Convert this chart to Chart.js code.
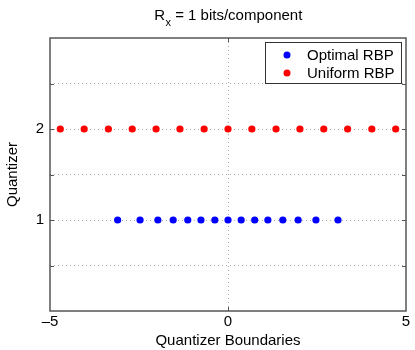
<!DOCTYPE html>
<html>
<head>
<meta charset="utf-8">
<script src="https://cdn.jsdelivr.net/npm/chart.js@4"></script>
<style>
  html, body { margin: 0; padding: 0; background: #fff; }
  #wrap { width: 415px; height: 350px; }
</style>
</head>
<body>
<div id="wrap"><canvas id="chart" width="415" height="350"></canvas></div>
<script>
// ======================
// DATA
// ======================

const optimalBoundaries = [-3.10, -2.47, -1.97, -1.54, -1.13, -0.76, -0.37, 0, 0.37, 0.75, 1.12, 1.54, 1.97, 2.47, 3.09];
const uniformBoundaries = [-4.71, -4.04, -3.36, -2.69, -2.02, -1.35, -0.67, 0, 0.67, 1.35, 2.02, 2.69, 3.36, 4.04, 4.71];
const quantizerLevels = [1, 2];
const seriesNames = ["Optimal RBP", "Uniform RBP"];
const xTicks = [-5, 0, 5];
const yLabelTicks = [1, 2];

const FONT = "'Liberation Sans', Arial, Helvetica, sans-serif";
const FS = 15;

// ======================
// PLUGINS
// ======================

const frameAndTitle = {
    id: "frameAndTitle",
    beforeDatasetsDraw(chart) {
        const { ctx, chartArea: a } = chart;
        ctx.save();
        ctx.strokeStyle = "#555";
        ctx.lineWidth = 1;
        // inner tick marks
        const ys = chart.scales.y;
        ys.ticks.forEach(t => {
            if (t.value <= 0 || t.value >= 3) return;
            const py = Math.round(ys.getPixelForValue(t.value)) + 0.5;
            ctx.beginPath();
            ctx.moveTo(a.left, py); ctx.lineTo(a.left + 4, py);
            ctx.moveTo(a.right, py); ctx.lineTo(a.right - 4, py);
            ctx.stroke();
        });
        const xs = chart.scales.x;
        const px = Math.round(xs.getPixelForValue(0)) + 0.5;
        ctx.beginPath();
        ctx.moveTo(px, a.bottom); ctx.lineTo(px, a.bottom - 4);
        ctx.moveTo(px, a.top); ctx.lineTo(px, a.top + 4);
        ctx.stroke();
        ctx.restore();
    },
    afterDraw(chart) {
        const { ctx, chartArea: a } = chart;
        ctx.save();
        ctx.strokeStyle = "#555";
        ctx.lineWidth = 1.5;
        ctx.strokeRect(a.left, a.top, a.right - a.left, a.bottom - a.top);

        // legend box
        const lx = 265, ly = 42, lw = 136, lh = 41;
        ctx.fillStyle = "#fff";
        ctx.fillRect(lx, ly, lw, lh);
        ctx.lineWidth = 1;
        ctx.strokeStyle = "#333";
        ctx.strokeRect(lx + 0.5, ly + 0.5, lw, lh);
        ctx.font = FS + "px " + FONT;
        ctx.textBaseline = "middle";
        chart.data.datasets.forEach((ds, i) => {
            const cy = ly + 13 + i * 18;
            ctx.fillStyle = ds.backgroundColor;
            ctx.beginPath();
            ctx.arc(287, cy, 3.5, 0, Math.PI * 2);
            ctx.fill();
            ctx.fillStyle = "#000";
            ctx.fillText(ds.label, 307, cy + 1);
        });

        // title with subscript
        const mid = (a.left + a.right) / 2;
        ctx.fillStyle = "#000";
        ctx.textBaseline = "alphabetic";
        const p1 = "R", p3 = " = 1 bits/component";
        ctx.font = "11px " + FONT;
        const wSub = ctx.measureText("x").width;
        ctx.font = FS + "px " + FONT;
        const w1 = ctx.measureText(p1).width, w3 = ctx.measureText(p3).width;
        let x0 = mid - (w1 + wSub + w3) / 2;
        ctx.fillText(p1, x0, 20);
        ctx.font = "11px " + FONT;
        ctx.fillText("x", x0 + w1 + 0.5, 26);
        ctx.font = FS + "px " + FONT;
        ctx.fillText(p3, x0 + w1 + wSub + 0.5, 20);
        ctx.restore();
    }
};

// ======================
// CHART
// ======================

new Chart(document.getElementById("chart"), {
    type: "scatter",
    data: {
        datasets: [
            {
                label: seriesNames[0],
                data: optimalBoundaries.map(v => ({ x: v, y: quantizerLevels[0] })),
                backgroundColor: "#0000ff",
                borderColor: "#0000ff",
                pointRadius: 3.6,
                borderWidth: 0
            },
            {
                label: seriesNames[1],
                data: uniformBoundaries.map(v => ({ x: v, y: quantizerLevels[1] })),
                backgroundColor: "#ff0000",
                borderColor: "#ff0000",
                pointRadius: 3.6,
                borderWidth: 0
            }
        ]
    },
    options: {
        responsive: false,
        animation: false,
        devicePixelRatio: 1,
        layout: { padding: { top: 38, right: 9, left: 0, bottom: 0 } },
        plugins: {
            legend: { display: false },
            tooltip: { enabled: false },
            title: { display: false }
        },
        scales: {
            x: {
                type: "linear",
                min: -5,
                max: 5,
                afterBuildTicks(scale) {
                    scale.ticks = xTicks.map(v => ({ value: v }));
                },
                afterFit(scale) { scale.height = 39; },
                ticks: {
                    color: "#000",
                    padding: 2,
                    maxRotation: 0,
                    font: { family: FONT, size: FS },
                    callback: v => v < 0 ? "\u2013" + Math.abs(v) : String(v)
                },
                grid: {
                    drawTicks: false,
                    color: c => c.tick && c.tick.value === 0 ? "#aaa" : "rgba(0,0,0,0)",
                    lineWidth: 1
                },
                border: { display: false, dash: [1, 3] },
                title: {
                    display: true,
                    text: "Quantizer Boundaries",
                    color: "#000",
                    font: { family: FONT, size: FS },
                    padding: { top: -2, bottom: 0 }
                }
            },
            y: {
                min: 0,
                max: 3,
                ticks: {
                    stepSize: 0.5,
                    color: "#000",
                    padding: 6,
                    font: { family: FONT, size: FS },
                    callback: v => yLabelTicks.includes(v) ? String(v) : ""
                },
                afterFit(scale) { scale.width = 50; },
                grid: {
                    drawTicks: false,
                    color: c => c.tick && c.tick.value > 0 && c.tick.value < 3 ? "#aaa" : "rgba(0,0,0,0)",
                    lineWidth: 1
                },
                border: { display: false, dash: [1, 3] },
                title: {
                    display: true,
                    text: "Quantizer",
                    color: "#000",
                    font: { family: FONT, size: FS },
                    padding: { top: 4, bottom: 4 }
                }
            }
        }
    },
    plugins: [frameAndTitle]
});
</script>
</body>
</html>
